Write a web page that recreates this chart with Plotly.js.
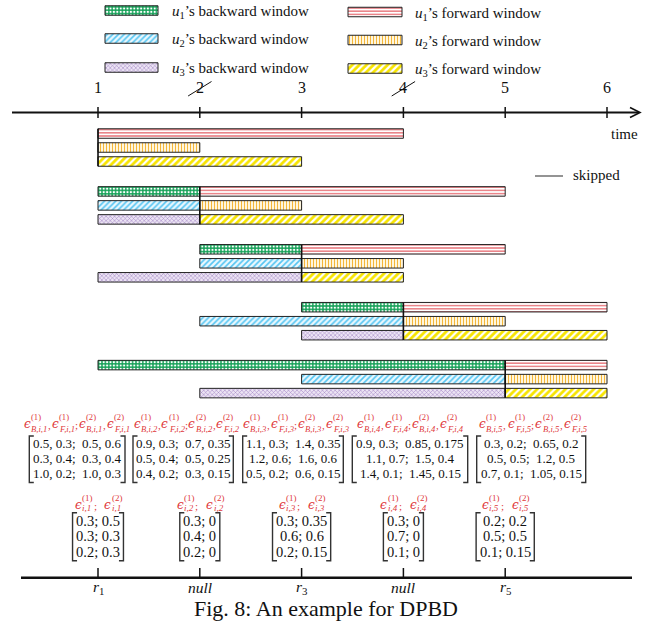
<!DOCTYPE html>
<html><head><meta charset="utf-8">
<script src="https://cdn.plot.ly/plotly-3.0.1.min.js"></script>
<style>html,body{margin:0;padding:0;background:#fff}#chart{width:648px;height:623px}</style>
</head><body><div id="chart"></div>
<script>
// ---------------- data ----------------
const timeTicks = [1, 2, 3, 4, 5, 6];
const timeTickLabels = ["1", "2", "3", "4", "5", "6"];
const skippedTimes = [2, 4];
const currentTimes = [1, 2, 3, 4, 5];
// backward windows: start time (ends at current time); null = no window
const u1BackStart = [null, 1, 2, 3, 1];
const u2BackStart = [null, 1, 2, 2, 3];
const u3BackStart = [null, 1, 1, 3, 2];
// forward windows: end time (starts at current time)
const u1FwdEnd = [4, 5, 5, 6, 6];
const u2FwdEnd = [2, 3, 4, 5, 6];
const u3FwdEnd = [3, 4, 4, 6, 6];
const backNames = ["u1's backward window", "u2's backward window", "u3's backward window"];
const fwdNames = ["u1's forward window", "u2's forward window", "u3's forward window"];
// window errors per time step: rows u1..u3 -> [eB(1), eF(1), eB(2), eF(2)]
const winErr1 = [["0.5","0.3","0.5","0.6"],["0.3","0.4","0.3","0.4"],["1.0","0.2","1.0","0.3"]];
const winErr2 = [["0.9","0.3","0.7","0.35"],["0.5","0.4","0.5","0.25"],["0.4","0.2","0.3","0.15"]];
const winErr3 = [["1.1","0.3","1.4","0.35"],["1.2","0.6","1.6","0.6"],["0.5","0.2","0.6","0.15"]];
const winErr4 = [["0.9","0.3","0.85","0.175"],["1.1","0.7","1.5","0.4"],["1.4","0.1","1.45","0.15"]];
const winErr5 = [["0.3","0.2","0.65","0.2"],["0.5","0.5","1.2","0.5"],["0.7","0.1","1.05","0.15"]];
// per-time-step errors: rows u1..u3 -> [e(1), e(2)]
const stepErr1 = [["0.3","0.5"],["0.3","0.3"],["0.2","0.3"]];
const stepErr2 = [["0.3","0"],["0.4","0"],["0.2","0"]];
const stepErr3 = [["0.3","0.35"],["0.6","0.6"],["0.2","0.15"]];
const stepErr4 = [["0.3","0"],["0.7","0"],["0.1","0"]];
const stepErr5 = [["0.2","0.2"],["0.5","0.5"],["0.1","0.15"]];
const resultLabels = ["<i>r</i><sub>1</sub>", "<i>null</i>", "<i>r</i><sub>3</sub>", "<i>null</i>", "<i>r</i><sub>5</sub>"];
const caption = "Fig. 8: An example for DPBD";

// ---------------- layout helpers ----------------
const PX = 101.8;               // pixels per time unit
const X0 = 1 - 98 / PX;         // time value at left edge
const hx = p => X0 + p / PX;    // pixel -> x value
const SERIF = '"Liberation Serif", "Times New Roman", serif';
const RED = '#e0393b';
const rowY = (g, r) => 133.5 + 57.9 * g + 14 * r;
const BARH = 9.5;

const styles = {
  u1B: {color: '#17a259', pattern: {shape: '.', fgcolor: '#ffffff', bgcolor: '#17a259', size: 3.4, solidity: 0.35}},
  u2B: {color: '#ffffff', pattern: {shape: '/', fgcolor: '#55c5f2', bgcolor: '#eaf8fe', size: 4, solidity: 0.4}},
  u3B: {color: '#ffffff', pattern: {shape: 'x', fgcolor: '#9a7cc0', bgcolor: '#ece4f4', size: 3, solidity: 0.3}},
  u1F: {color: '#ffffff', pattern: {shape: '-', fgcolor: '#e66e74', bgcolor: '#ffffff', size: 3.2, solidity: 0.42}},
  u2F: {color: '#ffffff', pattern: {shape: '|', fgcolor: '#f4b63a', bgcolor: '#fffbea', size: 3, solidity: 0.38}},
  u3F: {color: '#ffffff', pattern: {shape: '/', fgcolor: '#f7e400', bgcolor: '#ffffff', size: 5, solidity: 0.55}}
};

const traces = [];
function addBars(name, bases, lens, ys, st) {
  traces.push({
    type: 'bar', orientation: 'h', name: name, base: bases, x: lens, y: ys,
    width: ys.map(() => BARH), hoverinfo: 'skip', showlegend: false,
    marker: {color: st.color, pattern: st.pattern, line: {color: '#222', width: 1}}
  });
}
function backSeries(starts, r, st, name) {
  const b = [], l = [], y = [];
  starts.forEach((s, g) => { if (s !== null) { b.push(s); l.push(currentTimes[g] - s); y.push(rowY(g, r)); } });
  addBars(name, b, l, y, st);
}
function fwdSeries(ends, r, st, name) {
  const b = [], l = [], y = [];
  ends.forEach((e, g) => { b.push(currentTimes[g]); l.push(e - currentTimes[g]); y.push(rowY(g, r)); });
  addBars(name, b, l, y, st);
}
backSeries(u1BackStart, 0, styles.u1B, backNames[0]);
backSeries(u2BackStart, 1, styles.u2B, backNames[1]);
backSeries(u3BackStart, 2, styles.u3B, backNames[2]);
fwdSeries(u1FwdEnd, 0, styles.u1F, fwdNames[0]);
fwdSeries(u2FwdEnd, 1, styles.u2F, fwdNames[1]);
fwdSeries(u3FwdEnd, 2, styles.u3F, fwdNames[2]);

// current-time separators
const sepX = [], sepY = [];
currentTimes.forEach((t, g) => { sepX.push(t, t, null); sepY.push(rowY(g, 0) - BARH / 2, rowY(g, 2) + BARH / 2, null); });
traces.push({type: 'scatter', mode: 'lines', x: sepX, y: sepY, line: {color: '#111', width: 1.6}, hoverinfo: 'skip', showlegend: false});

// legend swatches (drawn as bars)
const legLeft = {x0: 105, x1: 158, ys: [10.5, 38.5, 67.5], textX: 171};
const legRight = {x0: 348, x1: 402, ys: [12, 40, 68.5], textX: 414};
[styles.u1B, styles.u2B, styles.u3B].forEach((st, i) => addBars(backNames[i], [hx(legLeft.x0)], [(legLeft.x1 - legLeft.x0) / PX], [legLeft.ys[i]], st));
[styles.u1F, styles.u2F, styles.u3F].forEach((st, i) => addBars(fwdNames[i], [hx(legRight.x0)], [(legRight.x1 - legRight.x0) / PX], [legRight.ys[i]], st));

const annotations = [];
const shapes = [];
function txt(x, y, text, size, opts) {
  annotations.push(Object.assign({x: x, y: y, xref: 'x', yref: 'y', text: text, showarrow: false,
    font: {family: SERIF, size: size, color: '#111'}, xanchor: 'center', yanchor: 'middle', borderpad: 0}, opts || {}));
}
function line(x0, y0, x1, y1, w, c) {
  shapes.push({type: 'line', xref: 'x', yref: 'y', x0: x0, y0: y0, x1: x1, y1: y1, line: {color: c || '#111', width: w}});
}

// legend texts
[1, 2, 3].forEach((k, i) => {
  txt(hx(legLeft.textX), legLeft.ys[i] + 1.5, `<i>u</i><sub>${k}</sub>’s backward window`, 15, {xanchor: 'left'});
  txt(hx(legRight.textX), legRight.ys[i] + 1.5, `<i>u</i><sub>${k}</sub>’s forward window`, 15, {xanchor: 'left'});
});

// top time axis
line(hx(12), 112.5, hx(639), 112.5, 2);
shapes.push({type: 'path', xref: 'x', yref: 'y', path: `M ${hx(630)} 107.5 L ${hx(640)} 112.5 L ${hx(630)} 117.5`, line: {color: '#111', width: 1.6}});
timeTicks.forEach((t, i) => {
  line(t, 107, t, 118, 1.5);
  txt(t, 87, timeTickLabels[i], 16);
});
skippedTimes.forEach(t => line(t - 11.7 / PX, 96, t + 11.7 / PX, 81.5, 1));
txt(hx(624), 134, 'time', 15);
line(hx(535), 176, hx(563), 176, 1.4, '#666');
txt(hx(572), 175, 'skipped', 15, {xanchor: 'left'});

// text measuring
const ctx = document.createElement('canvas').getContext('2d');
function tw(text, size, italic, fam) { ctx.font = (italic ? 'italic ' : '') + size + 'px ' + fam; return ctx.measureText(text).width; }
const EPSFAM = '"DejaVu Serif", serif';

function header(terms, centerPx, target, yE, ySup, ySub, sE, sS, sSep) {
  const parts = terms.map(t => {
    const we = tw('ϵ', sE, true, EPSFAM);
    const ws = Math.max(tw(t.sup, sS, false, '"Liberation Serif"'), tw(t.sub, sS, true, '"Liberation Serif"')) + 0.8;
    const wsep = t.sep ? tw(t.sep, sSep, false, '"Liberation Serif"') + 0.8 : 0;
    return {t, we, ws, wsep};
  });
  const natural = parts.reduce((a, p) => a + p.we + p.ws + p.wsep + 0.5, 0);
  const gap = Math.max(0, (target - natural) / (terms.length - 1));
  let cur = centerPx - (natural + gap * (terms.length - 1)) / 2;
  parts.forEach((p, i) => {
    const ef = {family: EPSFAM, size: sE, color: RED, style: 'italic'};
    txt(hx(cur), yE, 'ϵ', sE, {xanchor: 'left', font: ef});
    cur += p.we + 0.5;
    txt(hx(cur), ySup, p.t.sup, sS, {xanchor: 'left', font: {family: SERIF, size: sS, color: RED}});
    txt(hx(cur), ySub, p.t.sub, sS, {xanchor: 'left', font: {family: SERIF, size: sS, color: RED, style: 'italic'}});
    cur += p.ws;
    if (p.t.sep) { txt(hx(cur), yE + 1.5, p.t.sep, sSep, {xanchor: 'left', font: {family: SERIF, size: sSep, color: RED}}); cur += p.wsep; }
    cur += gap;
  });
}
function bracketPair(L, R, top, bot) {
  const c = '#333';
  shapes.push({type: 'path', xref: 'x', yref: 'y', path: `M ${hx(L + 4.5)} ${top} L ${hx(L)} ${top} L ${hx(L)} ${bot} L ${hx(L + 4.5)} ${bot}`, line: {color: c, width: 1.4}});
  shapes.push({type: 'path', xref: 'x', yref: 'y', path: `M ${hx(R - 4.5)} ${top} L ${hx(R)} ${top} L ${hx(R)} ${bot} L ${hx(R - 4.5)} ${bot}`, line: {color: c, width: 1.4}});
}

// top matrices (window errors)
const winErrs = [winErr1, winErr2, winErr3, winErr4, winErr5];
const topMatL = [29.3, 133, 242.7, 352.3, 476.7];
const topMatR = [125, 233.3, 343.3, 467.7, 585.7];
const topHeadC = [76, 185.5, 295, 409, 532];
const topHeadW = [98, 100, 98, 106, 108];
const NB = '\u00a0';
winErrs.forEach((m, k) => {
  const cx = (topMatL[k] + topMatR[k]) / 2;
  const idx = k + 1;
  header([
    {sup: '(1)', sub: 'B,i,' + idx, sep: ','},
    {sup: '(1)', sub: 'F,i,' + idx, sep: ';'},
    {sup: '(2)', sub: 'B,i,' + idx, sep: ','},
    {sup: '(2)', sub: 'F,i,' + idx, sep: ''}
  ], topHeadC[k], topHeadW[k], 423.5, 417, 428.5, 12, 8.6, 11);
  m.forEach((row, r) => {
    txt(hx(cx), 443.3 + 15 * r, `${row[0]}, ${row[1]};${NB}${NB}${row[2]}, ${row[3]}`, 13);
  });
  bracketPair(topMatL[k], topMatR[k], 436, 482.5);
});

// bottom matrices (per-step errors)
const stepErrs = [stepErr1, stepErr2, stepErr3, stepErr4, stepErr5];
stepErrs.forEach((m, k) => {
  const t = currentTimes[k];
  const cpx = (t - X0) * PX;
  const idx = k + 1;
  header([
    {sup: '(1)', sub: 'i,' + idx, sep: ';'},
    {sup: '(2)', sub: 'i,' + idx, sep: ''}
  ], cpx, 48, 504.5, 497.5, 508, 12, 9, 11);
  let wmax = 0;
  m.forEach((row, r) => {
    const s = `${row[0]}; ${row[1]}`;
    wmax = Math.max(wmax, tw(s, 14.5, false, '"Liberation Serif"'));
    txt(t, 520.7 + 15.5 * r, s, 14.5);
  });
  bracketPair(cpx - wmax / 2 - 3.5, cpx + wmax / 2 + 3.5, 512.7, 560.7);
});

// bottom result axis
line(hx(21), 577.7, hx(632), 577.7, 2.4);
currentTimes.forEach((t, i) => {
  line(t, 568, t, 577.7, 1.5);
  txt(t, 587.5, resultLabels[i], 15.5);
});
txt(hx(326), 608, caption, 22);

const layout = {
  width: 648, height: 623, margin: {l: 0, r: 0, t: 0, b: 0},
  paper_bgcolor: '#fff', plot_bgcolor: '#fff', showlegend: false, barmode: 'overlay',
  xaxis: {range: [X0, X0 + 648 / PX], visible: false, fixedrange: true},
  yaxis: {range: [623, 0], visible: false, fixedrange: true},
  shapes: shapes, annotations: annotations
};
Plotly.newPlot('chart', traces, layout, {staticPlot: true, displayModeBar: false});
</script></body></html>
